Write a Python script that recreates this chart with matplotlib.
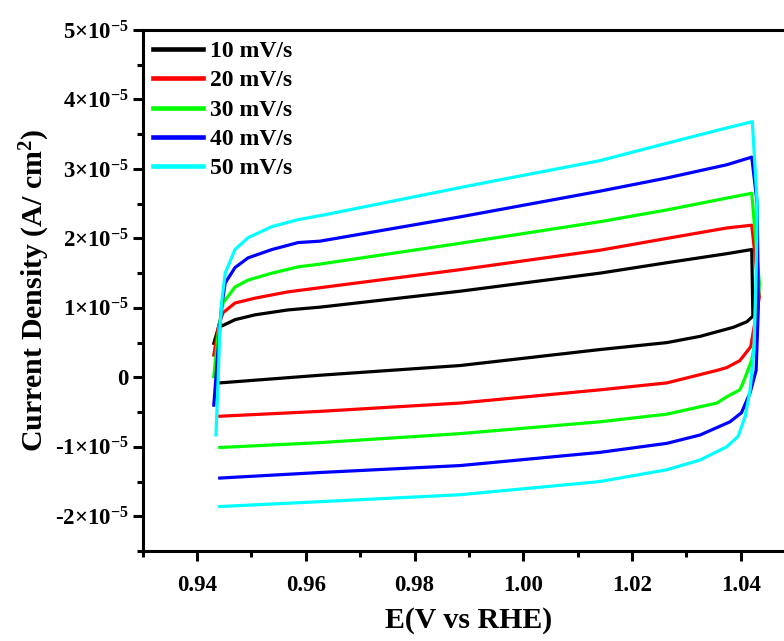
import matplotlib
matplotlib.use('Agg')
import matplotlib.pyplot as plt
from matplotlib.ticker import MultipleLocator, FixedLocator, FuncFormatter

plt.rcParams['font.family'] = ['Liberation Serif', 'DejaVu Serif']
plt.rcParams['font.weight'] = 'bold'
plt.rcParams['mathtext.fontset'] = 'custom'
plt.rcParams['mathtext.rm'] = 'Liberation Serif:bold'
plt.rcParams['mathtext.bf'] = 'Liberation Serif:bold'
plt.rcParams['mathtext.it'] = 'Liberation Serif:bold'

# potential (V vs RHE) and current density (units of 1e-5 A/cm2)
# each scan: start at low potential, anodic branch -> right turn -> cathodic branch back
e_10 = [0.9431, 0.9442, 0.9446, 0.9470, 0.9507, 0.9567, 0.9626, 0.9884, 1.0141, 1.0264, 1.0374, 1.0420,
        1.0422, 1.0411, 1.0386, 1.0325, 1.0264, 1.0141, 0.9884, 0.9626, 0.9442]
j_10 = [0.49, 0.78, 0.74, 0.83, 0.90, 0.97, 1.01, 1.24, 1.50, 1.65, 1.78, 1.84,
        0.88, 0.80, 0.72, 0.59, 0.50, 0.40, 0.17, 0.03, -0.08]

e_20 = [0.9431, 0.9440, 0.9448, 0.9470, 0.9507, 0.9567, 0.9626, 0.9884, 1.0141, 1.0264, 1.0374, 1.0420,
        1.0434, 1.0418, 1.0398, 1.0374, 1.0356, 1.0264, 1.0141, 0.9884, 0.9626, 0.9442]
j_20 = [0.32, 0.75, 0.93, 1.07, 1.14, 1.23, 1.29, 1.55, 1.83, 2.00, 2.15, 2.19,
        1.16, 0.44, 0.24, 0.14, 0.10, -0.08, -0.18, -0.37, -0.49, -0.56]

e_30 = [0.9431, 0.9440, 0.9448, 0.9470, 0.9494, 0.9538, 0.9586, 0.9626, 0.9884, 1.0141, 1.0264, 1.0374, 1.0420,
        1.0434, 1.0428, 1.0420, 1.0404, 1.0398, 1.0374, 1.0356, 1.0264, 1.0141, 0.9884, 0.9626, 0.9442]
j_30 = [0.01, 0.70, 1.07, 1.30, 1.40, 1.50, 1.59, 1.63, 1.93, 2.24, 2.41, 2.58, 2.65,
        1.35, 0.60, 0.25, -0.08, -0.18, -0.28, -0.37, -0.53, -0.64, -0.81, -0.94, -1.01]

e_40 = [0.9431, 0.9438, 0.9445, 0.9452, 0.9470, 0.9494, 0.9538, 0.9586, 0.9626, 0.9884, 1.0141, 1.0264, 1.0374, 1.0420,
        1.0430, 1.0432, 1.0428, 1.0417, 1.0401, 1.0380, 1.0325, 1.0264, 1.0141, 0.9884, 0.9626, 0.9442]
j_40 = [-0.40, 0.30, 1.00, 1.36, 1.58, 1.72, 1.84, 1.94, 1.96, 2.31, 2.68, 2.87, 3.06, 3.17,
        2.50, 1.00, 0.10, -0.22, -0.51, -0.64, -0.83, -0.95, -1.08, -1.27, -1.37, -1.45]

e_50 = [0.9435, 0.9439, 0.9442, 0.9446, 0.9452, 0.9470, 0.9494, 0.9538, 0.9586, 0.9635, 0.9902, 1.0141, 1.0264, 1.0374, 1.0421,
        1.0430, 1.0428, 1.0424, 1.0417, 1.0408, 1.0395, 1.0374, 1.0325, 1.0264, 1.0141, 0.9884, 0.9626, 0.9442]
j_50 = [-0.83, -0.04, 0.68, 1.12, 1.50, 1.84, 2.01, 2.17, 2.27, 2.34, 2.76, 3.12, 3.37, 3.59, 3.68,
        2.50, 1.50, 0.40, -0.18, -0.56, -0.85, -1.00, -1.19, -1.33, -1.50, -1.69, -1.79, -1.86]

labels = ['10 mV/s', '20 mV/s', '30 mV/s', '40 mV/s', '50 mV/s']
colors = ['#000000', '#ff0000', '#00ff00', '#0000ff', '#00ffff']
scans = [(e_10, j_10), (e_20, j_20), (e_30, j_30), (e_40, j_40), (e_50, j_50)]

fig = plt.figure(figsize=(7.84, 6.41), dpi=100)
ax = fig.add_axes([0.1818, 0.1404, 0.8326, 0.8128])

for (e, j), lab, c in zip(scans, labels, colors):
    ax.plot(e, [v * 1e-5 for v in j], color=c, lw=2.3, label=lab)

ax.set_xlim(0.93, 1.05)
ax.set_ylim(-2.5e-5, 5e-5)

ax.xaxis.set_major_locator(FixedLocator([0.94, 0.96, 0.98, 1.00, 1.02, 1.04]))
ax.xaxis.set_minor_locator(MultipleLocator(0.01))
ax.xaxis.set_major_formatter(FuncFormatter(lambda v, p: '%.2f' % v))

ax.yaxis.set_major_locator(FixedLocator([k * 1e-5 for k in range(-2, 6)]))
ax.yaxis.set_minor_locator(MultipleLocator(0.5e-5))


def sci_label(v, pos):
    k = int(round(v / 1e-5))
    if k == 0:
        return '0'
    return '%d\u00d710$^{-5}$' % k


ax.yaxis.set_major_formatter(FuncFormatter(sci_label))

for s in ax.spines.values():
    s.set_linewidth(2.2)
ax.tick_params(which='major', direction='out', length=7, width=2.2, labelsize=16.5, pad=3)
ax.tick_params(which='minor', direction='out', length=4, width=2.2)
ax.tick_params(axis='x', pad=10)

ax.set_xlabel('E(V vs RHE)', fontsize=21.5, fontweight='bold', labelpad=8)
ax.set_ylabel('Current Density (A/ cm$^2$)', fontsize=21.5, fontweight='bold', labelpad=2)

leg = ax.legend(loc='upper left', frameon=False, handlelength=2.1,
                handletextpad=0.3, labelspacing=0.33, borderaxespad=0.05,
                prop={'weight': 'bold', 'size': 17})
for line in leg.get_lines():
    line.set_linewidth(3.3)

fig.savefig('out.png', dpi=100)
